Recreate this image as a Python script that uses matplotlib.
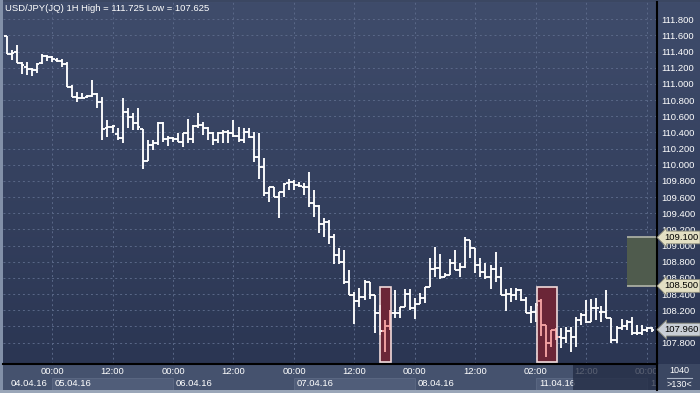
import numpy as np
import matplotlib
matplotlib.use("Agg")
import matplotlib.pyplot as plt
from matplotlib.colors import LinearSegmentedColormap
from matplotlib.collections import LineCollection
from matplotlib.patches import Rectangle
from matplotlib.lines import Line2D

plt.rcParams['font.family'] = ['Liberation Sans', 'DejaVu Sans']

# USD/JPY hourly bars, 04.04.16 15:00 -> 12.04.16 01:00
opens = [111.593, 111.371, 111.395, 111.256, 111.213, 111.181, 111.173, 111.256,
         111.346, 111.330, 111.296, 111.288, 111.243, 110.966, 110.842, 110.822,
         110.842, 110.851, 110.876, 110.780, 110.451, 110.471, 110.381, 110.327,
         110.649, 110.587, 110.520, 110.439, 110.046, 110.244, 110.265, 110.513,
         110.315, 110.327, 110.315, 110.285, 110.389, 110.315, 110.480, 110.492,
         110.451, 110.389, 110.306, 110.389, 110.409, 110.397, 110.356, 110.306,
         110.409, 110.340, 110.092, 109.968, 109.654, 109.721, 109.605, 109.666,
         109.770, 109.790, 109.749, 109.728, 109.721, 109.530, 109.489, 109.267,
         109.295, 109.102, 108.883, 108.800, 108.553, 108.388, 108.317, 108.359,
         108.553, 108.388, 108.161, 107.942, 108.004, 108.161, 108.161, 108.236,
         108.397, 108.223, 108.277, 108.347, 108.483, 108.706, 108.718, 108.614,
         108.635, 108.780, 108.697, 108.738, 109.069, 108.966, 108.759, 108.676,
         108.614, 108.706, 108.614, 108.388, 108.400, 108.388, 108.450, 108.326,
         108.169, 108.178, 108.314, 108.017, 107.790, 107.955, 107.864, 107.852,
         107.946, 107.864, 108.079, 108.140, 108.058, 108.223, 108.181, 108.181,
         108.100, 107.831, 107.976, 108.004, 108.058, 107.914, 107.914, 107.955,
         107.976]
highs = [111.593, 111.420, 111.482, 111.275, 111.268, 111.194, 111.256, 111.367,
         111.358, 111.346, 111.317, 111.305, 111.275, 110.987, 110.904, 110.892,
         110.863, 111.049, 110.892, 110.842, 110.554, 110.492, 110.451, 110.826,
         110.702, 110.640, 110.702, 110.439, 110.306, 110.306, 110.533, 110.533,
         110.356, 110.347, 110.397, 110.389, 110.562, 110.492, 110.637, 110.533,
         110.471, 110.409, 110.409, 110.430, 110.430, 110.554, 110.471, 110.451,
         110.451, 110.409, 110.393, 110.080, 109.728, 109.721, 109.666, 109.770,
         109.820, 109.811, 109.790, 109.778, 109.914, 109.687, 109.502, 109.337,
         109.316, 109.143, 108.966, 108.945, 108.697, 108.429, 108.471, 108.574,
         108.553, 108.388, 108.264, 108.079, 108.202, 108.450, 108.243, 108.459,
         108.459, 108.347, 108.409, 108.483, 108.842, 108.986, 108.895, 108.664,
         108.830, 108.945, 108.788, 109.102, 109.069, 108.966, 108.842, 108.780,
         108.759, 108.924, 108.738, 108.459, 108.471, 108.471, 108.459, 108.359,
         108.252, 108.289, 108.338, 108.017, 107.955, 107.980, 107.976, 107.996,
         107.988, 108.112, 108.169, 108.326, 108.335, 108.347, 108.252, 108.450,
         108.100, 108.004, 108.087, 108.079, 108.119, 108.017, 108.017, 107.988,
         107.988]
lows = [111.371, 111.296, 111.256, 111.123, 111.111, 111.098, 111.139, 111.243,
        111.288, 111.275, 111.275, 111.213, 110.966, 110.842, 110.780, 110.822,
        110.822, 110.842, 110.699, 110.306, 110.347, 110.389, 110.306, 110.269,
        110.455, 110.430, 110.430, 109.944, 110.046, 110.183, 110.244, 110.285,
        110.232, 110.285, 110.285, 110.223, 110.265, 110.265, 110.451, 110.368,
        110.306, 110.244, 110.265, 110.265, 110.265, 110.347, 110.285, 110.265,
        110.327, 110.038, 109.820, 109.613, 109.543, 109.601, 109.337, 109.605,
        109.687, 109.687, 109.728, 109.626, 109.481, 109.350, 109.159, 109.102,
        109.019, 108.772, 108.772, 108.524, 108.388, 108.029, 108.243, 108.326,
        108.335, 107.921, 107.893, 107.686, 107.955, 108.100, 108.100, 108.236,
        108.202, 108.087, 108.277, 108.293, 108.483, 108.614, 108.582, 108.607,
        108.635, 108.697, 108.607, 108.718, 108.842, 108.664, 108.614, 108.582,
        108.459, 108.553, 108.388, 108.194, 108.305, 108.326, 108.317, 108.169,
        108.045, 108.054, 107.881, 107.625, 107.744, 107.831, 107.728, 107.790,
        107.686, 107.741, 108.017, 108.045, 108.058, 108.079, 108.058, 108.100,
        107.790, 107.790, 107.955, 107.955, 107.893, 107.893, 107.893, 107.934,
        107.934]
closes = [111.371, 111.387, 111.256, 111.234, 111.181, 111.173, 111.247, 111.346,
          111.337, 111.305, 111.288, 111.243, 110.966, 110.842, 110.822, 110.830,
          110.851, 110.876, 110.780, 110.439, 110.463, 110.480, 110.327, 110.649,
          110.587, 110.520, 110.463, 110.046, 110.244, 110.265, 110.513, 110.315,
          110.327, 110.315, 110.285, 110.389, 110.315, 110.480, 110.492, 110.451,
          110.389, 110.306, 110.389, 110.409, 110.397, 110.356, 110.306, 110.409,
          110.340, 110.092, 109.968, 109.654, 109.721, 109.605, 109.666, 109.762,
          109.790, 109.749, 109.737, 109.721, 109.530, 109.489, 109.267, 109.295,
          109.102, 108.883, 108.800, 108.553, 108.388, 108.317, 108.359, 108.553,
          108.388, 108.161, 107.942, 108.004, 108.161, 108.161, 108.236, 108.397,
          108.223, 108.277, 108.347, 108.483, 108.706, 108.718, 108.614, 108.635,
          108.780, 108.697, 108.738, 109.069, 108.966, 108.759, 108.676, 108.614,
          108.706, 108.614, 108.388, 108.400, 108.388, 108.450, 108.326, 108.169,
          108.178, 108.264, 108.017, 107.790, 107.955, 107.864, 107.852, 107.946,
          107.864, 108.079, 108.140, 108.058, 108.223, 108.223, 108.181, 108.100,
          107.831, 107.976, 108.004, 108.058, 107.914, 107.914, 107.955, 107.976,
          107.960]

price_ticks = [107.8, 108.0, 108.2, 108.4, 108.6, 108.8, 109.0, 109.2, 109.4, 109.6,
               109.8, 110.0, 110.2, 110.4, 110.6, 110.8, 111.0, 111.2, 111.4, 111.6, 111.8]
time_ticks = [9, 21, 33, 45, 57, 69, 81, 93, 105, 115, 127]
time_labels = ['00:00', '12:00', '00:00', '12:00', '00:00', '12:00',
               '00:00', '12:00', '02:00', '12:00', '00:00']
day_starts = [-1, 9, 33, 57, 81, 105, 127]
day_labels = ['04.04.16', '05.04.16', '06.04.16', '07.04.16', '08.04.16', '11.04.16', '12.04.16']

# highlighted zones
red_zones = [(74.1, 76.2), (105.15, 109.1)]
red_low, red_high = 107.555, 108.485
green_start = 123.1
green_low, green_high = 108.5, 109.1

W, H = 700, 393
def rect(x0, y0, x1, y1):
    return [x0 / W, 1 - y1 / H, (x1 - x0) / W, (y1 - y0) / H]

fig = plt.figure(figsize=(7, 3.93), dpi=100)
fig.patch.set_facecolor('#3b4762')

grad = LinearSegmentedColormap.from_list('bg', ['#3f4c6b', '#2b3653'])
ramp = np.linspace(0, 1, 256).reshape(-1, 1)

xmin, xmax = -0.73, 129.03
ymin, ymax = 107.534, 112.014

# price scale background
ax_r = fig.add_axes(rect(658, 2, 700, 364))
ax_r.imshow(ramp, cmap=grad, aspect='auto', extent=(0, 1, 0, 1))
ax_r.axis('off')

ax = fig.add_axes(rect(3, 2, 657, 364))
ax.set_zorder(2)
ax.imshow(ramp, cmap=grad, aspect='auto', extent=(xmin, xmax, ymin, ymax), zorder=0)
ax.set_xlim(xmin, xmax)
ax.set_ylim(ymin, ymax)

ax.set_yticks(price_ticks)
ax.set_yticklabels([f'{p:.3f}' for p in price_ticks])
ax.yaxis.tick_right()
ax.set_xticks(time_ticks)
ax.tick_params(axis='y', length=0, pad=3, labelsize=6.8, labelcolor='white')
ax.tick_params(axis='x', length=0, labelbottom=False)
ax.set_axisbelow(True)
ax.grid(True, color='#5a6888', linestyle=(0, (2, 3)), linewidth=0.7)
for s in ['left', 'top']:
    ax.spines[s].set_visible(False)
for s in ['right', 'bottom']:
    ax.spines[s].set_color('black')
    ax.spines[s].set_linewidth(1.5)

# zones
for x0, x1 in red_zones:
    ax.add_patch(Rectangle((x0, red_low), x1 - x0, red_high - red_low,
                           facecolor='#6b2637', edgecolor='none', zorder=2))
ax.add_patch(Rectangle((green_start, green_low), xmax - green_start, green_high - green_low,
                       facecolor='#4f5b4d', edgecolor='none', zorder=2))
ax.hlines([green_low, green_high], green_start, xmax, colors='#a9ada2', linewidth=1.3, zorder=2.5)

# OHLC bars
segs, cols = [], []
for i in range(len(opens)):
    in_zone = any(x0 <= i <= x1 for x0, x1 in red_zones)
    c = '#f4a3a3' if in_zone else 'white'
    segs += [[(i, lows[i]), (i, highs[i])],
             [(i - 0.5, opens[i]), (i, opens[i])],
             [(i, closes[i]), (i + 0.5, closes[i])]]
    cols += [c, c, c]
ax.add_collection(LineCollection(segs, colors=cols, linewidths=1.35, zorder=3,
                                 capstyle='butt'))

for x0, x1 in red_zones:
    ax.add_patch(Rectangle((x0, red_low), x1 - x0, red_high - red_low,
                           facecolor='none', edgecolor='#f1dada', linewidth=1.2, zorder=4))

# level labels on the price scale
for level, fc in [(green_high, '#e3dfc3'), (green_low, '#e3dfc3'), (closes[-1], '#c9ced6')]:
    ax.annotate(f'{level:.3f}', xy=(1, level), xycoords=('axes fraction', 'data'),
                xytext=(5, 0), textcoords='offset points', ha='left', va='center',
                fontsize=6.8, color='black', annotation_clip=False, zorder=10,
                bbox=dict(boxstyle='larrow,pad=0.2', fc=fc, ec='#8a8a7a', lw=0.6))

# time axis
ax_b = fig.add_axes(rect(3, 365, 657, 390))
ax_b.set_xlim(xmin, xmax)
ax_b.set_ylim(0, 1)
ax_b.axis('off')
ax_b.add_patch(Rectangle((xmin, 0), xmax - xmin, 1, facecolor='#45526e', edgecolor='none'))
for k in range(len(day_starts)):
    x0 = day_starts[k]
    x1 = day_starts[k + 1] if k + 1 < len(day_starts) else xmax + 5
    if k % 2 == 1:
        ax_b.add_patch(Rectangle((x0, 0), x1 - x0, 0.49, facecolor='#505d79',
                                 edgecolor='#5c6984', linewidth=0.6))
    lx = 0.85 if k == 0 else x0 + 0.6
    ax_b.text(lx, 0.24, day_labels[k], color='white', fontsize=6.8, ha='left',
              va='center', clip_on=True)
for t, lab in zip(time_ticks, time_labels):
    ax_b.text(t, 0.73, lab, color='white', fontsize=6.8, ha='center', va='center', clip_on=True)
ax_b.add_patch(Rectangle((112.4, 0), xmax - 112.4, 1, facecolor='#222b43', alpha=0.75,
                         edgecolor='none', zorder=5))

# frame details
fig.add_artist(Rectangle((0, 0), 2.5 / W, 1, transform=fig.transFigure,
                         facecolor='#8290a8', edgecolor='none'))
fig.add_artist(Rectangle((0, 0), 1, 3 / H, transform=fig.transFigure,
                         facecolor='#9aa6b8', edgecolor='none'))
fig.add_artist(Line2D([657 / W, 657 / W], [3 / H, 1 - 364 / H], transform=fig.transFigure,
                      color='black', linewidth=1.5))
fig.add_artist(Line2D([667 / W, 692 / W], [1 - 377.5 / H, 1 - 377.5 / H], transform=fig.transFigure,
                      color='#aab4c4', linewidth=0.8))
fig.text(679 / W, 1 - 370.5 / H, '1040', color='white', fontsize=6.5, ha='center', va='center')
fig.text(679 / W, 1 - 384.5 / H, '>130<', color='white', fontsize=6.5, ha='center', va='center')

fig.text(5 / W, 1 - 8.5 / H, 'USD/JPY(JQ) 1H High = 111.725 Low = 107.625',
         color='white', fontsize=6.8, ha='left', va='center', zorder=10)

fig.savefig('out.png', dpi=100, facecolor=fig.get_facecolor())
